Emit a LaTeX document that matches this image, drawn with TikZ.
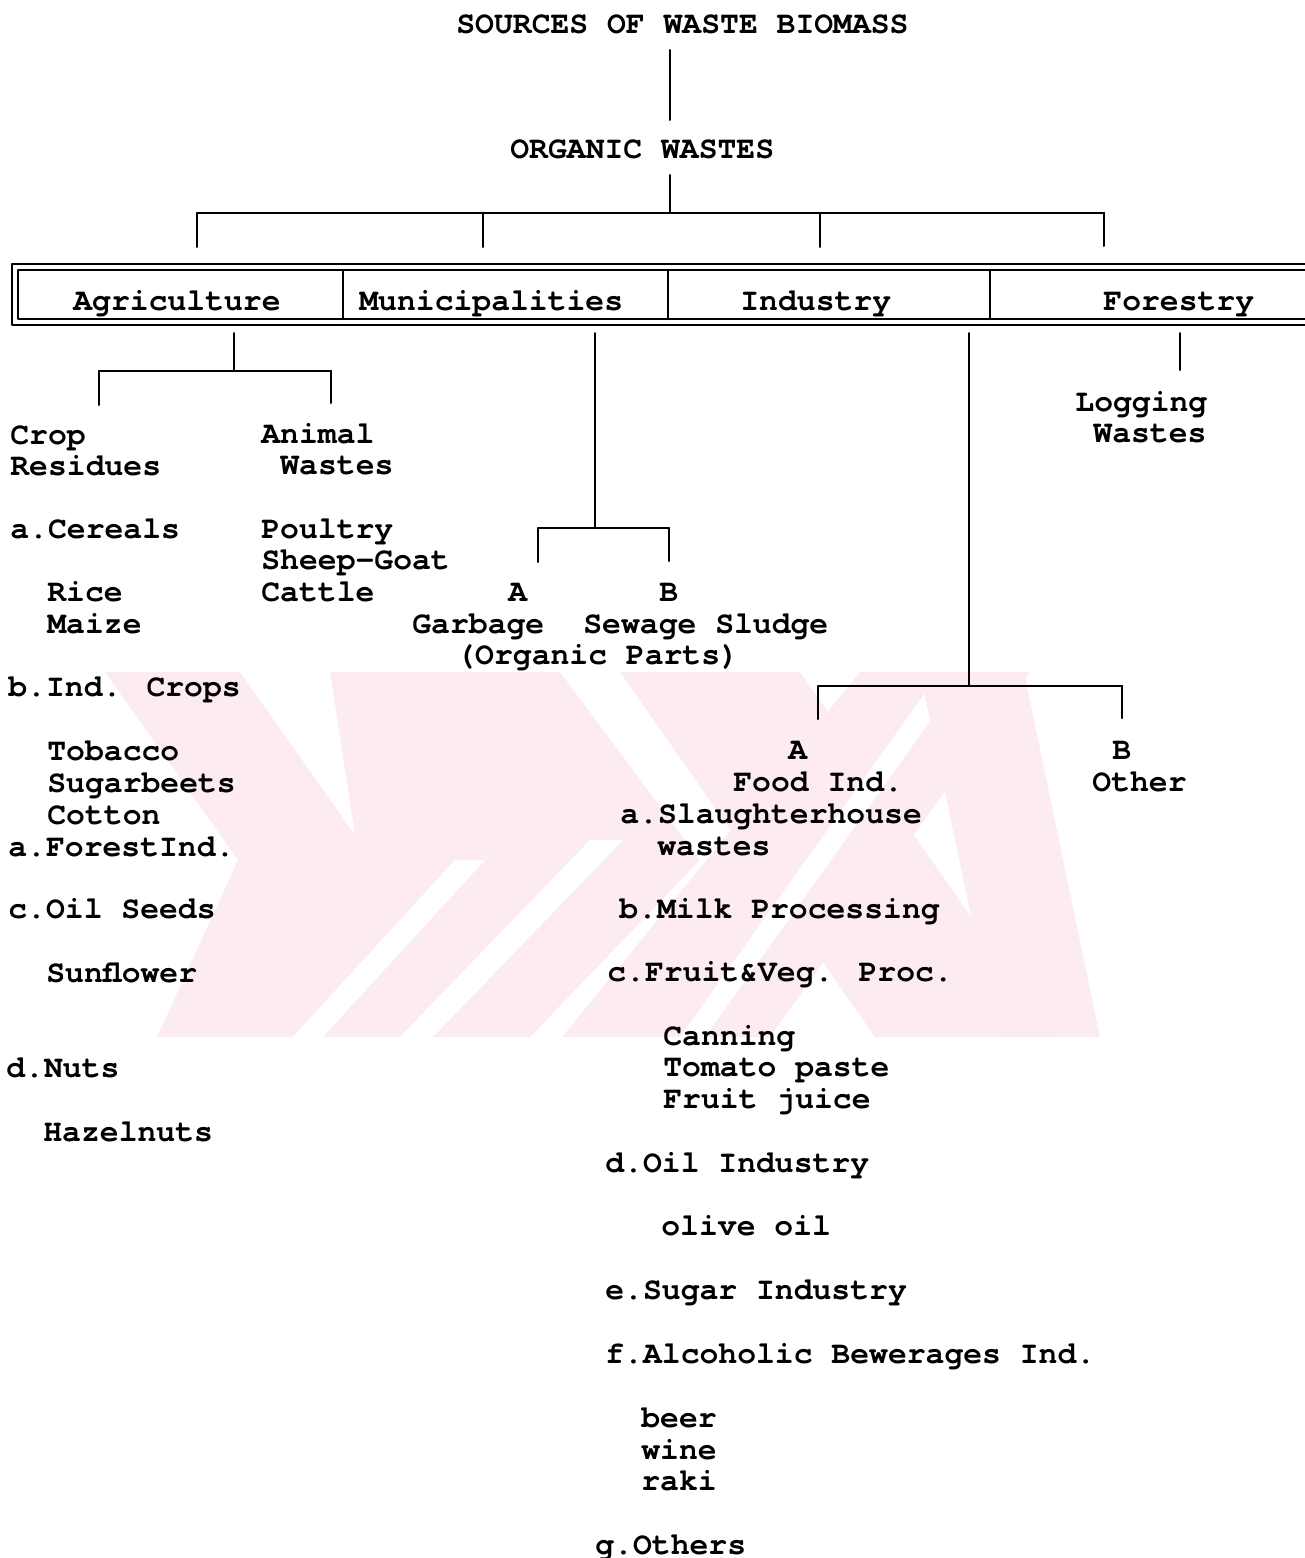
\documentclass[tikz,border=0pt]{standalone}
\usepackage{fontspec}
\newfontfamily\treefont{TeX Gyre Cursor}
\definecolor{wmpink}{RGB}{253,236,239}
\tikzset{
  lbl/.style={anchor=base west,inner sep=0pt,font=\treefont\bfseries\fontsize{15.7}{16}\selectfont},
  tline/.style={line width=1pt},
  boxline/.style={line width=1.3pt},
}
\begin{document}
\begin{tikzpicture}[x=0.5pt,y=-0.5pt,line cap=round,line join=round]
  \useasboundingbox (0,0) rectangle (1305,1558);
  \clip (0,0) rectangle (1305,1558);
  % watermark
  \begin{scope}
    \clip (105,672) rectangle (1100,1037);
    \fill[wmpink] (105,672) -- (240,672) -- (355,835) -- (330,672) -- (560,672)
      -- (700,860) -- (530,1037) -- (157,1037) -- (238,860) -- cycle;
    \fill[white] (455,860) -- (485,860) -- (320,1040) -- (290,1040) -- cycle;
    \fill[white] (590,840) -- (623,840) -- (430,1040) -- (397,1040) -- cycle;
    \fill[wmpink] (620,672) -- (800,672) -- (1055,1037) -- (875,1037) -- cycle;
    \fill[wmpink] (860,672) -- (1030,672) -- (770,1037) -- (562,1037) -- cycle;
    \fill[white] (940,672) -- (965,672) -- (705,1037) -- (680,1037) -- cycle;
    \fill[wmpink] (920,672) -- (1024,672) -- (1100,1037) -- (996,1037) -- cycle;
  \end{scope}
  % top of the tree
  \node[lbl] (src) at (456,33) {SOURCES OF WASTE BIOMASS};
  \node[lbl] (org) at (510,158) {ORGANIC WASTES};
  \coordinate (s1) at (670,50);
  \coordinate (s2) at (670,120);
  \coordinate (o1) at (670,175);
  \coordinate (hub) at (670,213);
  \draw[tline] (s1) -- (s2);
  \draw[tline] (o1) -- (hub);
  \coordinate (k1) at (197,213);
  \coordinate (k2) at (483,213);
  \coordinate (k3) at (820,213);
  \coordinate (k4) at (1104,213);
  \draw[tline] (k1) -- (k4);
  \draw[tline] (k1) -- ++(0,34);
  \draw[tline] (k2) -- ++(0,34);
  \draw[tline] (k3) -- ++(0,34);
  \draw[tline] (k4) -- ++(0,33);
  % double-lined box
  \draw[boxline] (1310,264) -- (12,264) -- (12,325) -- (1310,325);
  \draw[boxline] (1310,270) -- (18,270) -- (18,319) -- (1310,319);
  \draw[tline] (343,270) -- (343,319);
  \draw[tline] (668,270) -- (668,319);
  \draw[tline] (990,270) -- (990,319);
  \node[lbl] (agr) at (73,310) {Agriculture};
  \node[lbl] (mun) at (359,310) {Municipalities};
  \node[lbl] (ind) at (740,310) {Industry};
  \node[lbl] (frs) at (1103,310) {Forestry};
  % agriculture
  \coordinate (a0) at (234,333);
  \coordinate (a1) at (234,371);
  \coordinate (a2) at (99,371);
  \coordinate (a3) at (331,371);
  \draw[tline] (a0) -- (a1);
  \draw[tline] (a2) -- (a3);
  \draw[tline] (a2) -- ++(0,34);
  \draw[tline] (a3) -- ++(0,32);
  \node[lbl] (crop) at (10,444) {Crop};
  \node[lbl] (resid) at (10,475) {Residues};
  \node[lbl] (cer) at (10,538) {a.Cereals};
  \node[lbl] (rice) at (47,601) {Rice};
  \node[lbl] (maize) at (47,633) {Maize};
  \node[lbl] (indcr) at (8,696) {b.Ind. Crops};
  \node[lbl] (tob) at (47,760) {Tobacco};
  \node[lbl] (sugb) at (47,792) {Sugarbeets};
  \node[lbl] (cott) at (47,824) {Cotton};
  \node[lbl] (fori) at (8,856) {a.ForestInd.};
  \node[lbl] (oils) at (8,918) {c.Oil Seeds};
  \node[lbl] (sunf) at (46,982) {Sunflower};
  \node[lbl] (nuts) at (6,1077) {d.Nuts};
  \node[lbl] (hazl) at (43,1141) {Hazelnuts};
  \node[lbl] (anim) at (261,443) {Animal};
  \node[lbl] (animw) at (280,474) {Wastes};
  \node[lbl] (poul) at (261,538) {Poultry};
  \node[lbl] (shp) at (261,569) {Sheep-Goat};
  \node[lbl] (catt) at (261,601) {Cattle};
  % municipalities
  \coordinate (m0) at (595,333);
  \coordinate (m1) at (595,528);
  \coordinate (m2) at (538,528);
  \coordinate (m3) at (669,528);
  \draw[tline] (m0) -- (m1);
  \draw[tline] (m2) -- (m3);
  \draw[tline] (m2) -- ++(0,34);
  \draw[tline] (m3) -- ++(0,33);
  \node[lbl] (munA) at (508,601) {A};
  \node[lbl] (munB) at (659,601) {B};
  \node[lbl] (garb) at (412,633) {Garbage};
  \node[lbl] (sewg) at (583,633) {Sewage Sludge};
  \node[lbl] (orgp) at (456,664) {(Organic Parts)};
  % industry
  \coordinate (i0) at (969,333);
  \coordinate (i1) at (969,686);
  \coordinate (i2) at (818,686);
  \coordinate (i3) at (1122,686);
  \draw[tline] (i0) -- (i1);
  \draw[tline] (i2) -- (i3);
  \draw[tline] (i2) -- ++(0,33);
  \draw[tline] (i3) -- ++(0,32);
  \node[lbl] (indA) at (788,759) {A};
  \node[lbl] (food) at (733,791) {Food Ind.};
  \node[lbl] (indB) at (1112,759) {B};
  \node[lbl] (oth) at (1092,791) {Other};
  \node[lbl] (slau) at (620,823) {a.Slaughterhouse};
  \node[lbl] (slauw) at (657,855) {wastes};
  \node[lbl] (milk) at (619,918) {b.Milk Processing};
  \node[lbl] (fruit) at (607,981) {c.Fruit\&Veg. Proc.};
  \node[lbl] (cann) at (663,1045) {Canning};
  \node[lbl] (toma) at (663,1076) {Tomato paste};
  \node[lbl] (juice) at (663,1108) {Fruit juice};
  \node[lbl] (oili) at (605,1172) {d.Oil Industry};
  \node[lbl] (olive) at (661,1235) {olive oil};
  \node[lbl] (sugi) at (605,1299) {e.Sugar Industry};
  \node[lbl] (alco) at (605,1363) {f.Alcoholic Bewerages Ind.};
  \node[lbl] (beer) at (641,1427) {beer};
  \node[lbl] (wine) at (641,1459) {wine};
  \node[lbl] (raki) at (641,1490) {raki};
  \node[lbl] (othg) at (595,1554) {g.Others};
  % forestry
  \coordinate (f0) at (1180,333);
  \coordinate (f1) at (1180,370);
  \draw[tline] (f0) -- (f1);
  \node[lbl] (logg) at (1075,411) {Logging};
  \node[lbl] (loggw) at (1093,442) {Wastes};
\end{tikzpicture}
\end{document}
